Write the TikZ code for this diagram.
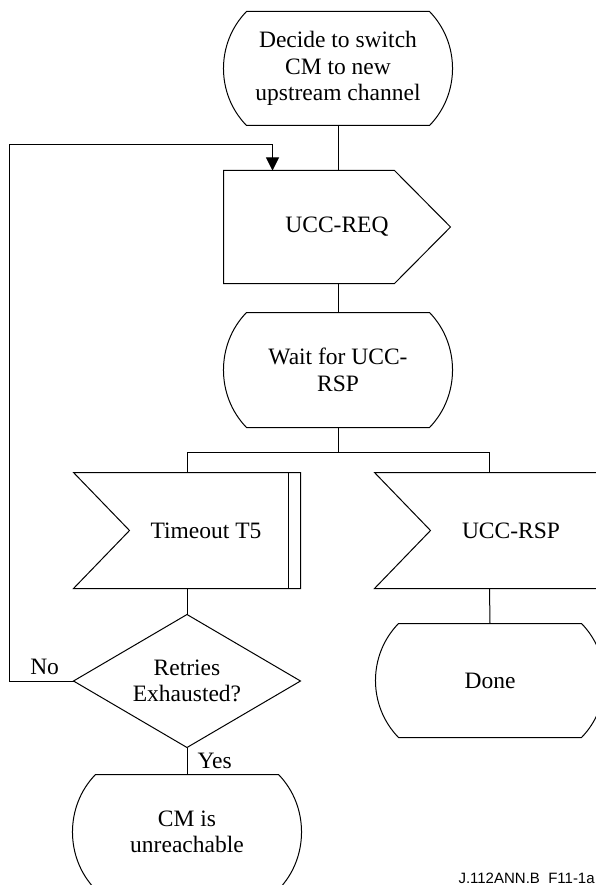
\documentclass[tikz,border=0pt]{standalone}
\usepackage{fontspec}
\setmainfont{Liberation Serif}
\newfontfamily\footfont{Liberation Sans}
\usetikzlibrary{calc,arrows.meta}
\newcommand\drawstate[1]{%
  \draw (#1.north west) -- (#1.north east)
    .. controls ($(#1.north east)+(30.7,31.5)$) and ($(#1.south east)+(30.7,-31.5)$) .. (#1.south east)
    -- (#1.south west)
    .. controls ($(#1.south west)+(-30.7,-31.5)$) and ($(#1.north west)+(-30.7,31.5)$) .. (#1.north west) -- cycle;}
\begin{document}
\begin{tikzpicture}[x=1pt,y=-1pt,line width=1pt,
  every node/.style={font=\fontsize{23.5}{26.5}\selectfont, inner sep=0pt, align=center},
  statebox/.style={minimum width=182pt, minimum height=113pt},
  sigbox/.style={minimum height=115pt},
  lbl/.style={font=\fontsize{23.5}{26.5}\selectfont},
  arrowline/.style={-{Triangle[length=13pt,width=13pt]}}]
\useasboundingbox (0,0) rectangle (596,885);
\clip (0,0) rectangle (596,885);

% nodes
\node[statebox] (decide) at (338,68.5) {Decide to switch\\CM to new\\upstream channel};
\node[minimum width=226pt, minimum height=112pt] (ucc) at (337,227) {UCC-REQ};
\node[statebox, minimum height=114pt] (wait) at (338,370) {Wait for UCC-\\RSP};
\node[sigbox, minimum width=226pt] (tmo) at (187,530.5) {\hspace*{38pt}Timeout T5};
\node[sigbox, minimum width=229pt] (rsp) at (489.5,530.5) {\hspace*{43pt}UCC-RSP};
\node[minimum width=226pt, minimum height=132pt] (dec) at (187,681) {Retries\\Exhausted?};
\node[statebox] (done) at (490,680.5) {Done};
\node[statebox, minimum height=114pt] (cm) at (187,832) {CM is\\unreachable};
\node[font=\footfont\fontsize{15}{17}\selectfont, anchor=base west] (fig) at (458,883.5) {J.112ANN.B\_F11-1a};

% outlines
\drawstate{decide}
\drawstate{wait}
\drawstate{done}
\drawstate{cm}
\draw (ucc.north west) -- ($(ucc.north west)+(171,0)$) -- (ucc.east)
  -- ($(ucc.south west)+(171,0)$) -- (ucc.south west) -- cycle;
\draw (tmo.north west) -- (tmo.north east) -- (tmo.south east) -- (tmo.south west)
  -- ($(tmo.west)+(56,0)$) -- cycle;
\draw ($(tmo.north east)+(-12,0)$) -- ($(tmo.south east)+(-12,0)$);
\draw (rsp.north west) -- (rsp.north east) -- (rsp.south east) -- (rsp.south west)
  -- ($(rsp.west)+(56,0)$) -- cycle;
\draw (dec.north) -- (dec.east) -- (dec.south) -- (dec.west) -- cycle;

% connectors
\coordinate (br) at (338,452);
\coordinate (lc) at (9.3,145);
\draw (decide.south) -- (decide.south |- ucc.north);
\draw (wait.north |- ucc.south) -- (wait.north);
\draw (wait.south) -- (br);
\draw (tmo.north) -- (tmo.north |- br) -- (rsp.north |- br) -- (rsp.north);
\draw (tmo.south) -- (dec.north);
\draw (dec.south) -- node[lbl, anchor=west, xshift=10pt] {Yes} (cm.north);
\draw (rsp.south) -- (done.north);
\draw[arrowline] (dec.west) -- node[lbl, above, pos=0.45, inner sep=6pt] {No} (dec.west -| lc)
  -- (lc) -| ($(ucc.north west)+(49,0)$);
\end{tikzpicture}
\end{document}
